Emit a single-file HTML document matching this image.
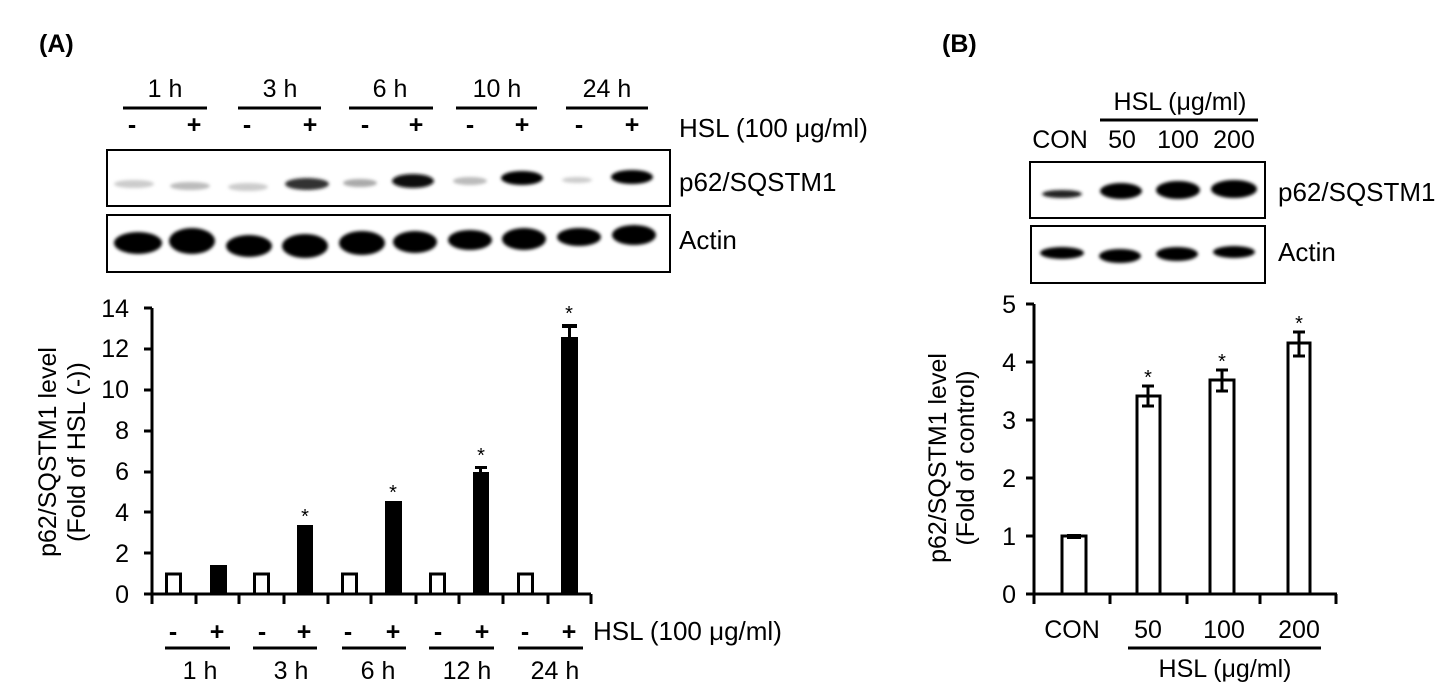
<!DOCTYPE html>
<html><head><style>body{margin:0;background:#fff}svg{display:block}text{font-family:"Liberation Sans",Arial,sans-serif;fill:#000}</style></head><body>
<svg width="1453" height="692" viewBox="0 0 1453 692" xmlns="http://www.w3.org/2000/svg">
<defs><filter id="b" x="-20%" y="-50%" width="140%" height="200%"><feGaussianBlur stdDeviation="1.6"/></filter></defs>
<text x="39" y="52" font-size="25" font-weight="bold">(A)</text>
<text x="942" y="52" font-size="25" font-weight="bold">(B)</text>
<!-- Panel A blot headers -->
<g font-size="25" text-anchor="middle">
<text x="165" y="97">1 h</text><text x="280" y="97">3 h</text><text x="390" y="97">6 h</text><text x="497" y="97">10 h</text><text x="607" y="97">24 h</text>
</g>
<g stroke="#000" stroke-width="3">
<line x1="123" y1="108" x2="207" y2="108"/><line x1="238" y1="108" x2="321" y2="108"/><line x1="349" y1="108" x2="433" y2="108"/><line x1="456" y1="108" x2="537" y2="108"/><line x1="566" y1="108" x2="648" y2="108"/>
</g>
<g font-size="25" font-weight="bold" text-anchor="middle">
<text x="132" y="133">-</text><text x="194" y="133">+</text><text x="247" y="133">-</text><text x="310" y="133">+</text><text x="365" y="133">-</text><text x="416" y="133">+</text><text x="470" y="133">-</text><text x="522" y="133">+</text><text x="579" y="133">-</text><text x="632" y="133">+</text>
</g>
<text x="679" y="137" font-size="26">HSL (100 μg/ml)</text>
<rect x="107" y="150" width="563" height="56" fill="#fff" stroke="#000" stroke-width="2"/>
<rect x="107" y="215" width="563" height="57" fill="#fff" stroke="#000" stroke-width="2"/>
<g filter="url(#b)">
<ellipse cx="134" cy="184" rx="20" ry="4" fill="#ccc"/><ellipse cx="190" cy="186" rx="20" ry="4" fill="#bbb"/>
<ellipse cx="248" cy="187" rx="20" ry="4" fill="#ccc"/><ellipse cx="307" cy="184" rx="22" ry="6" fill="#333"/>
<ellipse cx="360" cy="183" rx="17" ry="4" fill="#aaa"/><ellipse cx="413" cy="181" rx="21" ry="7" fill="#111"/>
<ellipse cx="470" cy="181" rx="17" ry="4" fill="#bbb"/><ellipse cx="522" cy="178" rx="21" ry="7" fill="#000"/>
<ellipse cx="577" cy="180" rx="15" ry="3" fill="#ccc"/><ellipse cx="632" cy="177" rx="21" ry="7" fill="#000"/>
<ellipse cx="138" cy="243" rx="24" ry="11" fill="#000"/><ellipse cx="192" cy="241" rx="23" ry="13" fill="#000"/>
<ellipse cx="249" cy="246" rx="23" ry="11" fill="#000"/><ellipse cx="305" cy="246" rx="23" ry="12" fill="#000"/>
<ellipse cx="362" cy="243" rx="23" ry="12" fill="#000"/><ellipse cx="415" cy="242" rx="22" ry="11" fill="#000"/>
<ellipse cx="470" cy="240" rx="22" ry="10" fill="#000"/><ellipse cx="524" cy="239" rx="22" ry="11" fill="#000"/>
<ellipse cx="579" cy="237" rx="22" ry="9" fill="#000"/><ellipse cx="634" cy="235" rx="22" ry="10" fill="#000"/>
</g>
<text x="679" y="191" font-size="26">p62/SQSTM1</text>
<text x="679" y="249" font-size="26">Actin</text>
<!-- Panel A chart -->
<g font-size="25" text-anchor="end">
<text x="129" y="603">0</text><text x="129" y="562">2</text><text x="129" y="521">4</text><text x="129" y="480">6</text><text x="129" y="439">8</text><text x="129" y="398">10</text><text x="129" y="357">12</text><text x="129" y="317">14</text>
</g>
<g stroke="#000" stroke-width="3" fill="none">
<line x1="152" y1="308" x2="152" y2="604"/><line x1="144" y1="594" x2="591" y2="594"/>
<line x1="144" y1="308" x2="152" y2="308"/><line x1="144" y1="349" x2="152" y2="349"/><line x1="144" y1="390" x2="152" y2="390"/><line x1="144" y1="431" x2="152" y2="431"/><line x1="144" y1="472" x2="152" y2="472"/><line x1="144" y1="512" x2="152" y2="512"/><line x1="144" y1="553" x2="152" y2="553"/>
<line x1="196" y1="594" x2="196" y2="604"/><line x1="239" y1="594" x2="239" y2="604"/><line x1="284" y1="594" x2="284" y2="604"/><line x1="328" y1="594" x2="328" y2="604"/><line x1="371" y1="594" x2="371" y2="604"/><line x1="416" y1="594" x2="416" y2="604"/><line x1="459" y1="594" x2="459" y2="604"/><line x1="503" y1="594" x2="503" y2="604"/><line x1="548" y1="594" x2="548" y2="604"/><line x1="591" y1="594" x2="591" y2="604"/>
<rect x="166.5" y="574" width="14" height="20"/><rect x="254.5" y="574" width="14" height="20"/><rect x="342.5" y="574" width="14" height="20"/><rect x="430.5" y="574" width="14" height="20"/><rect x="518.5" y="574" width="14" height="20"/>
</g>
<g fill="#000">
<rect x="210" y="565" width="17" height="29"/><rect x="297" y="525" width="16" height="69"/><rect x="385" y="501" width="17" height="93"/><rect x="473" y="472" width="16" height="122"/><rect x="561" y="337" width="17" height="257"/>
<rect x="475" y="466" width="12" height="3"/><rect x="479" y="466" width="3" height="8"/><rect x="562" y="324" width="15" height="4"/><rect x="568" y="324" width="3" height="14"/>
</g>
<g font-size="20" text-anchor="middle">
<text x="305" y="523">*</text><text x="393" y="499">*</text><text x="481" y="462">*</text><text x="569" y="320">*</text>
</g>
<g font-size="25" font-weight="bold" text-anchor="middle">
<text x="173" y="640">-</text><text x="217" y="640">+</text><text x="262" y="640">-</text><text x="304" y="640">+</text><text x="348" y="640">-</text><text x="393" y="640">+</text><text x="438" y="640">-</text><text x="482" y="640">+</text><text x="525" y="640">-</text><text x="569" y="640">+</text>
</g>
<text x="593" y="640" font-size="26">HSL (100 μg/ml)</text>
<g stroke="#000" stroke-width="3">
<line x1="165" y1="648" x2="230" y2="648"/><line x1="253" y1="648" x2="317" y2="648"/><line x1="342" y1="648" x2="406" y2="648"/><line x1="429" y1="648" x2="494" y2="648"/><line x1="518" y1="648" x2="583" y2="648"/>
</g>
<g font-size="25" text-anchor="middle">
<text x="200" y="679">1 h</text><text x="291" y="679">3 h</text><text x="378" y="679">6 h</text><text x="467" y="679">12 h</text><text x="555" y="679">24 h</text>
</g>
<g font-size="25" text-anchor="middle" transform="translate(56,452) rotate(-90)">
<text x="0" y="0">p62/SQSTM1 level</text><text x="0" y="29">(Fold of HSL (-))</text>
</g>
<!-- Panel B blot -->
<text x="1180" y="110" font-size="25" text-anchor="middle">HSL (μg/ml)</text>
<line x1="1100" y1="120" x2="1258" y2="120" stroke="#000" stroke-width="3"/>
<g font-size="25" text-anchor="middle">
<text x="1060" y="148">CON</text><text x="1122" y="148">50</text><text x="1178" y="148">100</text><text x="1234" y="148">200</text>
</g>
<rect x="1030" y="162" width="235" height="56" fill="#fff" stroke="#000" stroke-width="2"/>
<rect x="1031" y="226" width="234" height="57" fill="#fff" stroke="#000" stroke-width="2"/>
<g filter="url(#b)">
<ellipse cx="1062" cy="194" rx="20" ry="4" fill="#222"/><ellipse cx="1121" cy="191" rx="21" ry="8" fill="#000"/><ellipse cx="1178" cy="190" rx="22" ry="9" fill="#000"/><ellipse cx="1234" cy="189" rx="23" ry="9" fill="#000"/>
<ellipse cx="1062" cy="253" rx="22" ry="6" fill="#000"/><ellipse cx="1120" cy="256" rx="21" ry="7" fill="#000"/><ellipse cx="1177" cy="254" rx="21" ry="7" fill="#000"/><ellipse cx="1234" cy="252" rx="21" ry="6" fill="#000"/>
</g>
<text x="1278" y="201" font-size="26">p62/SQSTM1</text>
<text x="1278" y="261" font-size="26">Actin</text>
<!-- Panel B chart -->
<g font-size="25" text-anchor="end">
<text x="1016" y="603">0</text><text x="1016" y="545">1</text><text x="1016" y="487">2</text><text x="1016" y="429">3</text><text x="1016" y="371">4</text><text x="1016" y="313">5</text>
</g>
<g stroke="#000" stroke-width="3" fill="none">
<line x1="1034" y1="304" x2="1034" y2="604"/><line x1="1026" y1="594" x2="1337" y2="594"/>
<line x1="1026" y1="304" x2="1034" y2="304"/><line x1="1026" y1="362" x2="1034" y2="362"/><line x1="1026" y1="420" x2="1034" y2="420"/><line x1="1026" y1="478" x2="1034" y2="478"/><line x1="1026" y1="536" x2="1034" y2="536"/>
<line x1="1110" y1="594" x2="1110" y2="604"/><line x1="1187" y1="594" x2="1187" y2="604"/><line x1="1260" y1="594" x2="1260" y2="604"/><line x1="1336" y1="594" x2="1336" y2="604"/>
<rect x="1062" y="536" width="24" height="58"/><rect x="1137" y="396" width="23" height="198"/><rect x="1210" y="380" width="24" height="214"/><rect x="1288" y="343" width="22" height="251"/>
<line x1="1148" y1="386" x2="1148" y2="406"/><line x1="1142" y1="386" x2="1154" y2="386"/><line x1="1142" y1="406" x2="1154" y2="406"/>
<line x1="1222" y1="370" x2="1222" y2="391"/><line x1="1216" y1="370" x2="1228" y2="370"/><line x1="1216" y1="391" x2="1228" y2="391"/>
<line x1="1299" y1="332" x2="1299" y2="356"/><line x1="1293" y1="332" x2="1305" y2="332"/><line x1="1293" y1="356" x2="1305" y2="356"/>
</g>
<rect x="1067" y="534" width="14" height="5" fill="#000"/>
<g font-size="20" text-anchor="middle">
<text x="1148" y="384">*</text><text x="1222" y="368">*</text><text x="1299" y="330">*</text>
</g>
<g font-size="25" text-anchor="middle">
<text x="1072" y="638">CON</text><text x="1148" y="638">50</text><text x="1224" y="638">100</text><text x="1299" y="638">200</text>
</g>
<line x1="1128" y1="648" x2="1321" y2="648" stroke="#000" stroke-width="3"/>
<text x="1225" y="677" font-size="25" text-anchor="middle">HSL (μg/ml)</text>
<g font-size="25" text-anchor="middle" transform="translate(946,458) rotate(-90)">
<text x="0" y="0">p62/SQSTM1 level</text><text x="0" y="28">(Fold of control)</text>
</g>
</svg>
</body></html>
